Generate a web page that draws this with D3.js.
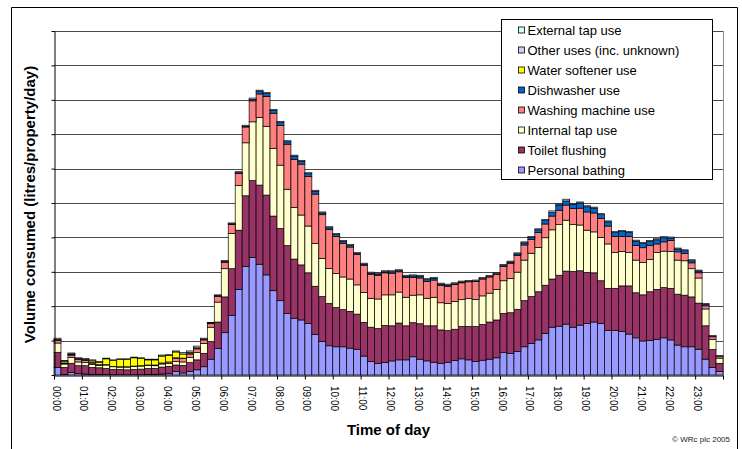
<!DOCTYPE html>
<html>
<head>
<meta charset="utf-8">
<script src="https://cdn.jsdelivr.net/npm/d3@7"></script>
<style>
  body { margin: 0; background: #fff; }
  svg  { display: block; font-family: "Liberation Sans", Arial, sans-serif; }
</style>
</head>
<body>
<svg id="chart" width="742" height="449"></svg>
<script>
/**
 *  Household water use by 15 minute period (stacked columns)
 */

var hours = ["00:00","01:00","02:00","03:00","04:00","05:00","06:00","07:00","08:00","09:00","10:00","11:00",
             "12:00","13:00","14:00","15:00","16:00","17:00","18:00","19:00","20:00","21:00","22:00","23:00"];
var quarters = ["00", "15", "30", "45"];

// values, one per quarter hour (gridline = 10)
var bathing = [2.2,0.2,0.7,0.4, 0.3,0.2,0.2,0.2, 0.1,0.1,0.1,0.1, 0.1,0.2,0.2,0.3, 0.4,1.0,0.6,1.0, 1.5,2.4,4.6,7.7,
  12.3,17.3,24.9,31.5, 34.2,32.2,29.1,24.5, 21.6,17.9,16.5,16.0, 15.0,11.8,9.7,8.5, 8.2,8.2,7.8,7.5, 5.5,3.9,3.4,3.6,
  4.1,4.4,4.4,5.3, 4.6,4.1,3.7,3.4, 3.7,4.2,4.7,4.4, 3.9,4.3,4.6,5.0, 6.6,6.3,6.8,8.2, 9.2,10.2,12.1,13.9,
  14.2,14.8,13.9,14.5, 15.0,15.4,15.0,13.0, 12.9,12.6,11.9,10.8, 9.9,10.0,10.4,10.8, 10.2,8.7,8.2,8.2, 7.5,4.6,2.2,1.0];
var toilet = [4.4,2.0,2.7,2.3, 2.4,2.0,1.9,1.7, 1.5,1.5,1.4,1.5, 1.6,1.7,1.7,2.0, 2.1,1.9,2.2,2.6, 2.9,3.9,5.1,7.7,
  10.4,13.6,17.2,20.6, 22.3,23.0,23.2,21.7, 21.0,19.7,17.2,16.0, 14.7,14.0,13.1,12.3, 11.4,10.8,10.7,10.2, 9.8,10.0,10.1,10.8,
  10.2,10.7,9.9,9.9, 10.3,10.2,10.6,9.7, 9.2,9.1,9.4,9.7, 10.2,10.4,10.8,11.0, 11.3,11.8,12.3,13.4, 13.6,14.0,14.0,14.0,
  14.8,15.4,16.2,15.8, 14.8,14.3,12.4,12.2, 12.3,13.3,14.0,13.1, 13.4,14.2,14.5,14.6, 15.0,14.8,15.0,14.5, 13.4,9.7,5.2,2.4];
var internalTap = [2.7,1.0,1.7,1.1, 0.9,0.9,0.7,1.0, 0.8,0.7,0.8,0.9, 0.9,0.9,0.8,0.9, 0.9,1.0,1.0,1.5, 2.1,2.9,4.2,5.8,
  8.2,10.2,13.0,15.4, 17.1,19.7,20.0,19.7, 18.4,16.4,15.0,14.5, 13.6,12.4,11.1,10.2, 9.9,9.5,9.4,8.5, 8.7,8.4,8.6,8.9,
  9.0,9.0,8.3,8.0, 8.4,8.0,8.3,7.9, 7.9,8.1,7.8,8.1, 7.9,8.3,8.4,8.9, 9.5,10.0,10.8,11.8, 12.6,12.9,13.8,14.3,
  14.7,14.8,13.6,13.3, 12.3,11.9,12.6,12.9, 10.4,10.0,9.7,9.5, 9.4,9.4,10.7,10.6, 10.7,9.9,10.0,8.2, 7.3,4.9,2.9,1.5];
var washing = [0.8,0.2,0.7,0.8, 0.6,0.4,0.2,0.1, 0.1,0.1,0.1,0.1, 0.1,0.1,0.2,0.3, 0.4,1.0,1.0,1.0, 1.1,1.0,1.0,1.7,
  1.9,2.7,3.5,4.6, 6.1,6.8,8.7,10.2, 11.6,13.1,14.0,14.8, 14.4,14.4,12.7,11.3, 10.8,9.8,9.3,8.8, 7.9,7.0,6.9,6.4,
  6.3,5.9,5.7,5.1, 4.9,4.9,5.0,5.1, 5.0,4.9,4.9,4.9, 5.2,4.9,4.7,4.4, 4.1,4.4,4.9,4.4, 4.0,4.3,4.0,4.0,
  4.2,4.4,4.7,4.9, 5.3,5.5,5.5,5.2, 4.7,4.4,4.7,4.3, 4.3,4.0,2.5,2.7, 3.2,2.4,2.1,1.7, 1.5,0.9,0.8,0.5];
var dishwasher = [0.1,0.1,0.1,0.1, 0.1,0.1,0,0, 0,0,0,0, 0,0,0,0, 0,0.1,0.1,0.1, 0.1,0.1,0.1,0.1,
  0.1,0.1,0.2,0.2, 0.4,0.8,0.8,0.8, 0.8,0.7,0.9,0.8, 0.8,0.8,0.5,0.5, 0.5,0.5,0.4,0.3, 0.3,0.3,0.3,0.3,
  0.4,0.3,0.4,0.5, 0.5,0.5,0.5,0.3, 0.3,0.2,0.2,0.1, 0.1,0.1,0.1,0.1, 0.3,0.3,0.4,0.6, 0.6,0.8,1.0,1.0,
  1.5,1.2,1.2,1.5, 1.5,1.4,1.1,1.2, 1.1,1.4,1.1,1.2, 1.2,1.2,1.2,1.2, 0.7,0.8,0.8,0.6, 0.5,0.4,0.1,0];
var softener = [0.1,0.5,0.2,0.1, 0.2,0.5,0.6,1.7, 1.7,2.1,2.1,2.4, 2.1,1.5,1.5,2.0, 1.9,1.7,1.2,0.4, 0.2,0.1,0.1,0.1,
  0.1,0.1,0,0, 0,0,0,0, 0,0,0,0, 0,0,0,0, 0,0,0,0, 0,0,0,0,
  0,0,0,0, 0,0,0,0, 0,0,0,0, 0,0,0,0, 0,0,0,0, 0,0,0,0,
  0,0,0,0, 0,0,0,0, 0,0,0,0, 0,0,0,0, 0,0,0,0, 0,0,0,0];
var otherUses = [0.4,0.2,0.3,0.2, 0.3,0.3,0.3,0.2, 0.2,0.2,0.2,0.2, 0.2,0.2,0.2,0.3, 0.2,0.3,0.4,0.4, 0.5,0.3,0.2,0.2,
  0.3,0.2,0.3,0.3, 0.4,0.3,0.3,0.3, 0.3,0.3,0.3,0.3, 0.3,0.3,0.3,0.3, 0.3,0.3,0.3,0.3, 0.3,0.3,0.3,0.3,
  0.3,0.3,0.3,0.3, 0.3,0.3,0.3,0.3, 0.3,0.3,0.3,0.3, 0.3,0.3,0.3,0.3, 0.3,0.3,0.3,0.3, 0.3,0.3,0.3,0.5,
  0.3,0.5,0.3,0.3, 0.3,0.3,0.3,0.3, 0.3,0.3,0.3,0.3, 0.3,0.3,0.3,0.3, 0.3,0.3,0.3,0.3, 0.3,0.3,0.3,0.3];
var externalTap = [0,0,0,0, 0,0,0,0, 0,0,0,0, 0,0,0,0, 0,0,0,0, 0,0,0,0,
  0,0,0,0, 0,0,0,0, 0,0,0,0, 0,0,0,0, 0,0,0,0, 0,0,0,0,
  0,0,0,0, 0,0,0,0, 0,0,0,0, 0,0,0,0, 0,0,0,0, 0,0,0,0,
  0,0,0,0, 0,0,0,0, 0,0,0,0, 0,0,0,0, 0,0,0,0, 0,0,0,0];

// bottom of the stack first
var series = [
  { k: 'bathing',  v: 'Personal bathing',           color: '#9999ff', values: bathing },
  { k: 'toilet',   v: 'Toilet flushing',            color: '#993366', values: toilet },
  { k: 'tap',      v: 'Internal tap use',           color: '#ffffcc', values: internalTap },
  { k: 'washing',  v: 'Washing machine use',        color: '#ff8080', values: washing },
  { k: 'dish',     v: 'Dishwasher use',             color: '#0066cc', values: dishwasher },
  { k: 'softener', v: 'Water softener use',         color: '#ffff00', values: softener },
  { k: 'other',    v: 'Other uses (inc. unknown)',  color: '#ccccff', values: otherUses },
  { k: 'external', v: 'External tap use',           color: '#ccffff', values: externalTap }
];

var slots = [];
hours.forEach(function(h) {
  quarters.forEach(function(q) { slots.push(h.slice(0, 3) + q); });
});

var rows = slots.map(function(s, i) {
  var r = { slot: s };
  series.forEach(function(se) { r[se.k] = se.values[i]; });
  return r;
});

var svg = d3.select("#chart");
var plotLeft = 54, plotRight = 723, plotTop = 31, plotBottom = 375;

var x = d3.scaleBand().domain(slots).range([plotLeft, plotRight]).padding(0);
var xi = d3.scaleLinear().domain([0, slots.length]).range([plotLeft, plotRight]);
var y = d3.scaleLinear().domain([0, 100]).range([plotBottom, plotTop]);

// chart frame
svg.append("path")
   .attr("d", "M11.5,460 V7.5 H737.5 V460")
   .attr("fill", "none").attr("stroke", "#000");

// gridlines + plot border
svg.append("g").selectAll("line")
   .data(y.ticks(10).filter(function(t) { return t > 0; }))
   .enter().append("line")
   .attr("x1", plotLeft).attr("x2", plotRight)
   .attr("y1", function(d) { return Math.round(y(d)) + 0.5; })
   .attr("y2", function(d) { return Math.round(y(d)) + 0.5; })
   .attr("stroke", "#4a4a4a");
svg.append("line")
   .attr("x1", plotRight + 0.5).attr("x2", plotRight + 0.5)
   .attr("y1", plotTop).attr("y2", plotBottom)
   .attr("stroke", "#8c8c8c");

// stacked columns
var stacked = d3.stack().keys(series.map(function(s) { return s.k; }))(rows);
svg.append("g").selectAll("g")
   .data(stacked)
   .enter().append("g")
   .attr("fill", function(d, i) { return series[i].color; })
   .selectAll("rect")
   .data(function(d) { return d.filter(function(p) { return p[1] - p[0] > 0; }); })
   .enter().append("rect")
   .attr("x", function(d) { return x(d.data.slot); })
   .attr("width", x.bandwidth())
   .attr("y", function(d) { return y(d[1]); })
   .attr("height", function(d) { return y(d[0]) - y(d[1]); })
   .attr("stroke", "#000")
   .attr("stroke-width", 0.7);

// axes
svg.append("g")
   .attr("transform", "translate(" + (plotLeft + 0.5) + ",0)")
   .call(d3.axisLeft(y).ticks(10).tickSize(3).tickSizeOuter(0).tickFormat(""))
   .call(function(g) { g.selectAll("line,path").attr("stroke", "#000"); });

svg.append("g")
   .attr("transform", "translate(0," + (plotBottom + 0.5) + ")")
   .call(d3.axisBottom(xi).tickValues(d3.range(0, slots.length + 1, 4)).tickSize(4).tickSizeOuter(0).tickFormat(""))
   .call(function(g) { g.selectAll("line,path").attr("stroke", "#000"); });

svg.append("g").selectAll("text")
   .data(hours)
   .enter().append("text")
   .attr("transform", function(d) { return "translate(" + (x(d) + 2) + ",386) rotate(90)"; })
   .attr("dy", "0.35em")
   .attr("font-size", 10)
   .attr("fill", "#000")
   .text(function(d) { return d; });

// titles
svg.append("text")
   .attr("transform", "translate(35,204.5) rotate(-90)")
   .attr("text-anchor", "middle")
   .attr("font-size", 15).attr("font-weight", "bold")
   .text("Volume consumed (litres/property/day)");

svg.append("text")
   .attr("x", 388.5).attr("y", 435)
   .attr("text-anchor", "middle")
   .attr("font-size", 15).attr("font-weight", "bold")
   .text("Time of day");

svg.append("text")
   .attr("x", 730).attr("y", 442)
   .attr("text-anchor", "end")
   .attr("font-size", 8).attr("fill", "#222")
   .text("\u00a9 WRc plc 2005");

// legend, top of the stack first
var legend = svg.append("g").attr("transform", "translate(501.5,19.5)");
legend.append("rect")
   .attr("width", 211).attr("height", 160)
   .attr("fill", "#fff").attr("stroke", "#000");
var item = legend.selectAll("g")
   .data(series.slice().reverse())
   .enter().append("g")
   .attr("transform", function(d, i) { return "translate(0," + (15.5 + i * 20) + ")"; });
item.append("rect")
   .attr("x", 17).attr("y", -8).attr("width", 6).attr("height", 6)
   .attr("fill", function(d) { return d.color; })
   .attr("stroke", "#000").attr("stroke-width", 0.8);
item.append("text")
   .attr("x", 26).attr("y", 0)
   .attr("font-size", 13)
   .text(function(d) { return d.v; });
</script>
</body>
</html>
